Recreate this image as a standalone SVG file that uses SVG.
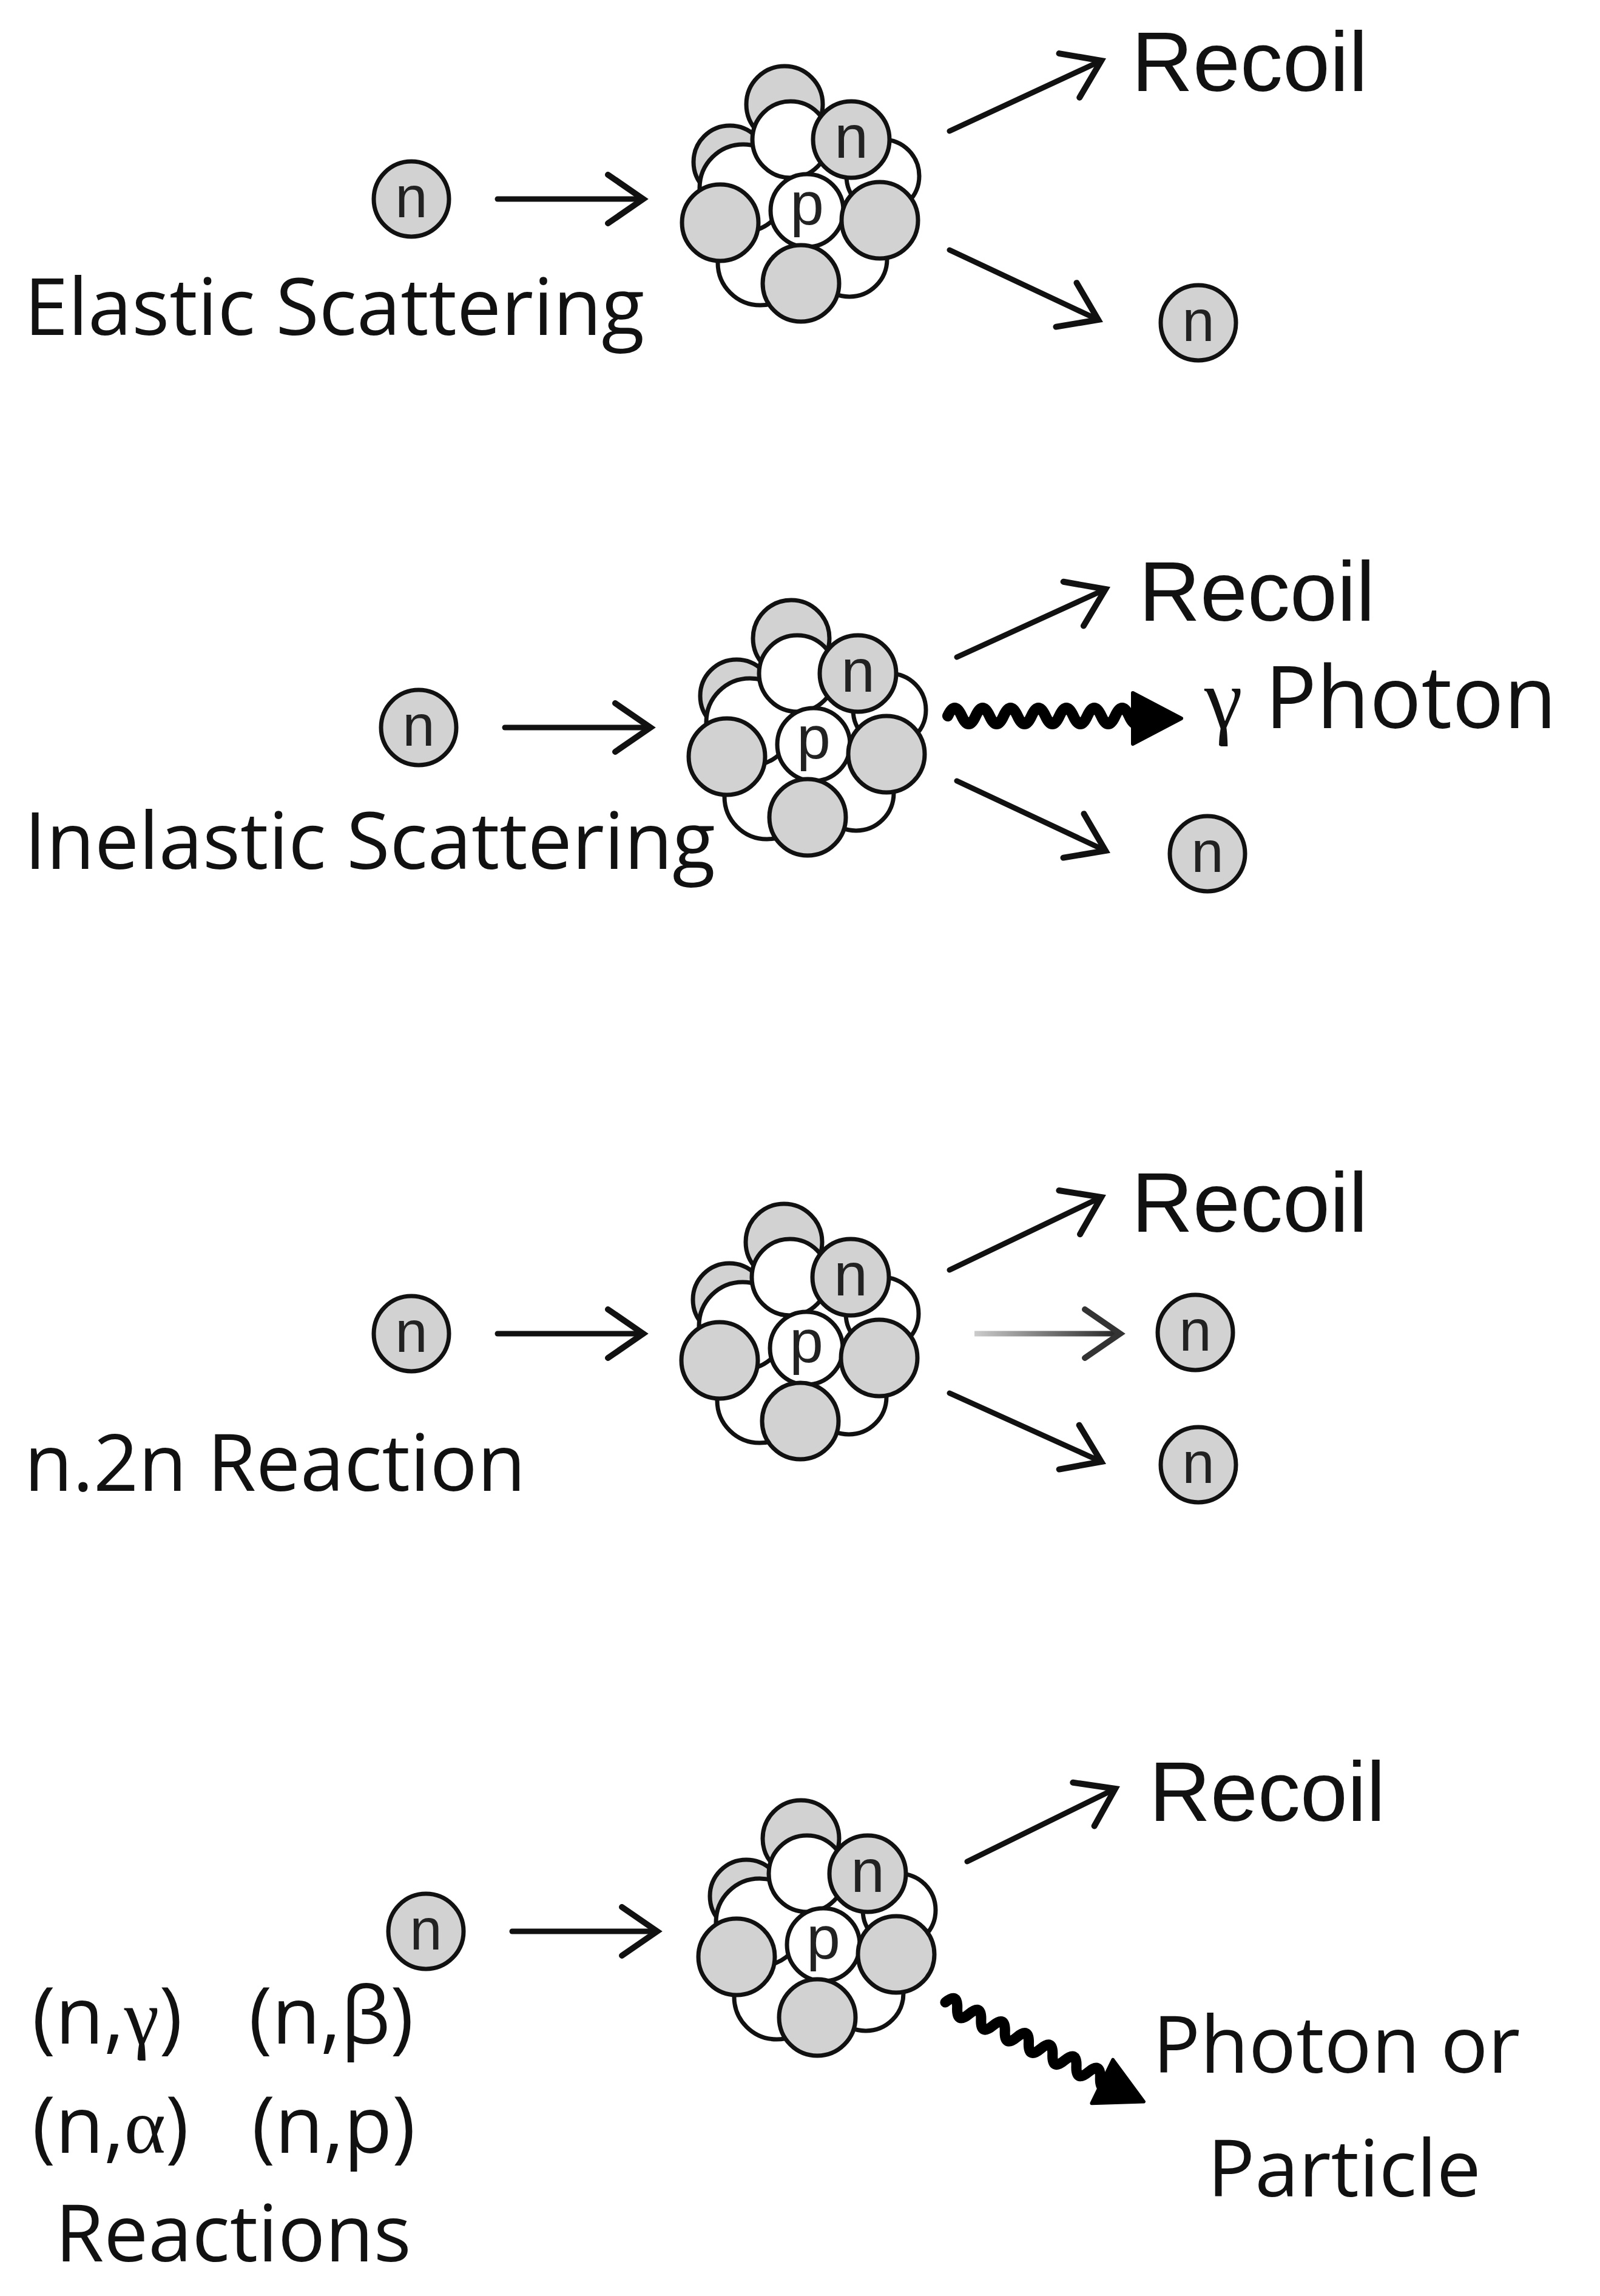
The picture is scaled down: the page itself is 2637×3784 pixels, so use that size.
<svg xmlns="http://www.w3.org/2000/svg" xmlns:xlink="http://www.w3.org/1999/xlink" width="2637" height="3784" viewBox="0 0 2637 3784">
<style>
.c{stroke:#111;stroke-width:7}
.g{fill:#d2d2d2}
.w{fill:#fff}
.lt{font-family:"Liberation Sans",Arial,sans-serif;fill:#111}
.nl{font-family:"Liberation Sans",Arial,sans-serif;fill:#222;text-anchor:middle}
.lab{font-family:"Open Sans","Liberation Sans",sans-serif;font-size:130px;fill:#111}
.ar{fill:none;stroke:#111;stroke-width:9;stroke-linecap:round;marker-end:url(#h)}
.wv{fill:none;stroke:#000;stroke-width:18;stroke-linecap:round}
</style>
<defs>
<marker id="h" viewBox="-70 -50 80 100" refX="0" refY="0" markerWidth="80" markerHeight="100" markerUnits="userSpaceOnUse" orient="auto" overflow="visible">
<path d="M-58,-40 L0,0 L-58,40" fill="none" stroke="#111" stroke-width="10" stroke-linecap="round" stroke-linejoin="miter"/>
</marker>
<marker id="hg" viewBox="-70 -50 80 100" refX="0" refY="0" markerWidth="80" markerHeight="100" markerUnits="userSpaceOnUse" orient="auto" overflow="visible">
<path d="M-58,-40 L0,0 L-58,40" fill="none" stroke="#333" stroke-width="10" stroke-linecap="round"/>
</marker>
<linearGradient id="gr" gradientUnits="userSpaceOnUse" x1="1606" x2="1846" y1="0" y2="0"><stop offset="0" stop-color="#ccc"/><stop offset="1" stop-color="#222"/></linearGradient>
<g id="nuc">
<circle class="c g" cx="-22" cy="-158" r="63"/>
<circle class="c g" cx="-112" cy="-63" r="60"/>
<circle class="c w" cx="140" cy="-40" r="60"/>
<circle class="c w" cx="-62" cy="103" r="70"/>
<circle class="c w" cx="85" cy="97" r="62"/>
<circle class="c w" cx="-90" cy="-20" r="72"/>
<circle class="c w" cx="-12" cy="-100" r="63"/>
<circle class="c g" cx="88" cy="-100" r="63"/>
<circle class="c w" cx="15" cy="17" r="60"/>
<circle class="c g" cx="-128" cy="37" r="63"/>
<circle class="c g" cx="135" cy="33" r="63"/>
<circle class="c g" cx="5" cy="137" r="63"/>
<text class="nl" x="88" y="-70" font-size="100">n</text>
<text class="nl" x="15" y="40" font-size="100">p</text>
</g>
<g id="neu">
<circle class="c g" cx="0" cy="0" r="62"/>
<text class="nl" x="0" y="30" font-size="96">n</text>
</g>
<g id="wave">
<path class="wv" d="M0,0 q11.5,-26 23,0 t23,0 t23,0 t23,0 t23,0 t23,0 t23,0 t23,0 t23,0 t23,0 t23,0 t23,0 t23,0 t23,0"/>
<polygon points="305,-38 385,4 305,46" fill="#000" stroke="#000" stroke-width="6" stroke-linejoin="round"/>
</g>
</defs>
<rect width="2637" height="3784" fill="#fff"/>
<g id="nodes">
<g id="nucleus1"><use xlink:href="#nuc" x="1315" y="330"/></g>
<g id="nucleus2"><use xlink:href="#nuc" x="1326" y="1210"/></g>
<g id="nucleus3"><use xlink:href="#nuc" x="1314" y="2205"/></g>
<g id="nucleus4"><use xlink:href="#nuc" x="1342" y="3188"/></g>
<g id="n1"><use xlink:href="#neu" x="678" y="328"/></g>
<g id="n2"><use xlink:href="#neu" x="1975" y="532"/></g>
<g id="n3"><use xlink:href="#neu" x="690" y="1199"/></g>
<g id="n4"><use xlink:href="#neu" x="1990" y="1407"/></g>
<g id="n5"><use xlink:href="#neu" x="678" y="2198"/></g>
<g id="n6"><use xlink:href="#neu" x="1970" y="2196"/></g>
<g id="n7"><use xlink:href="#neu" x="1975" y="2414"/></g>
<g id="n8"><use xlink:href="#neu" x="702" y="3183"/></g>
</g>
<g id="connectors">
<path class="ar" d="M820,328 H1060"/>
<path class="ar" d="M1565,216 L1815,100"/>
<path class="ar" d="M1565,412 L1810,527"/>
<path class="ar" d="M832,1199 H1072"/>
<path class="ar" d="M1577,1083 L1822,971"/>
<path class="ar" d="M1577,1287 L1822,1402"/>
<use xlink:href="#wave" x="1562" y="1180"/>
<path class="ar" d="M820,2198 H1060"/>
<path class="ar" d="M1565,2093 L1815,1973"/>
<path d="M1606,2198 H1846" fill="none" stroke="url(#gr)" stroke-width="9" marker-end="url(#hg)"/>
<path class="ar" d="M1565,2296 L1815,2409"/>
<path class="ar" d="M844,3183 H1083"/>
<path class="ar" d="M1594,3068 L1838,2948"/>
<use xlink:href="#wave" transform="translate(1558,3300) rotate(26) scale(0.95)"/>
</g>
<g id="labels">
<text class="lt" x="1865" y="150" font-size="140">Recoil</text>
<text class="lt" x="1877" y="1023" font-size="140">Recoil</text>
<text class="lt" x="1865" y="2030" font-size="140">Recoil</text>
<text class="lt" x="1894" y="3001" font-size="140">Recoil</text>
<text class="lab" x="40" y="552">Elastic Scattering</text>
<text class="lab" x="40" y="1432">Inelastic Scattering</text>
<text class="lab" x="40" y="2457">n.2n Reaction</text>
<text x="1985" y="1200" font-size="142" fill="#111"><tspan font-family="Liberation Serif,serif">γ</tspan><tspan font-family="Open Sans,Liberation Sans,sans-serif"> Photon</tspan></text>
<text class="lab" x="1900" y="3416" font-size="134">Photon or</text>
<text class="lab" x="1990" y="3620" font-size="134">Particle</text>
<text class="lab" x="53" y="3368" font-size="126">(n,<tspan font-family="Liberation Serif,serif">γ</tspan>)</text>
<text class="lab" x="410" y="3368" font-size="126">(n,β)</text>
<text class="lab" x="53" y="3548" font-size="126">(n,<tspan font-family="Liberation Serif,serif">α</tspan>)</text>
<text class="lab" x="415" y="3548" font-size="126">(n,p)</text>
<text class="lab" x="91" y="3727" font-size="126">Reactions</text>
</g>
</svg>
